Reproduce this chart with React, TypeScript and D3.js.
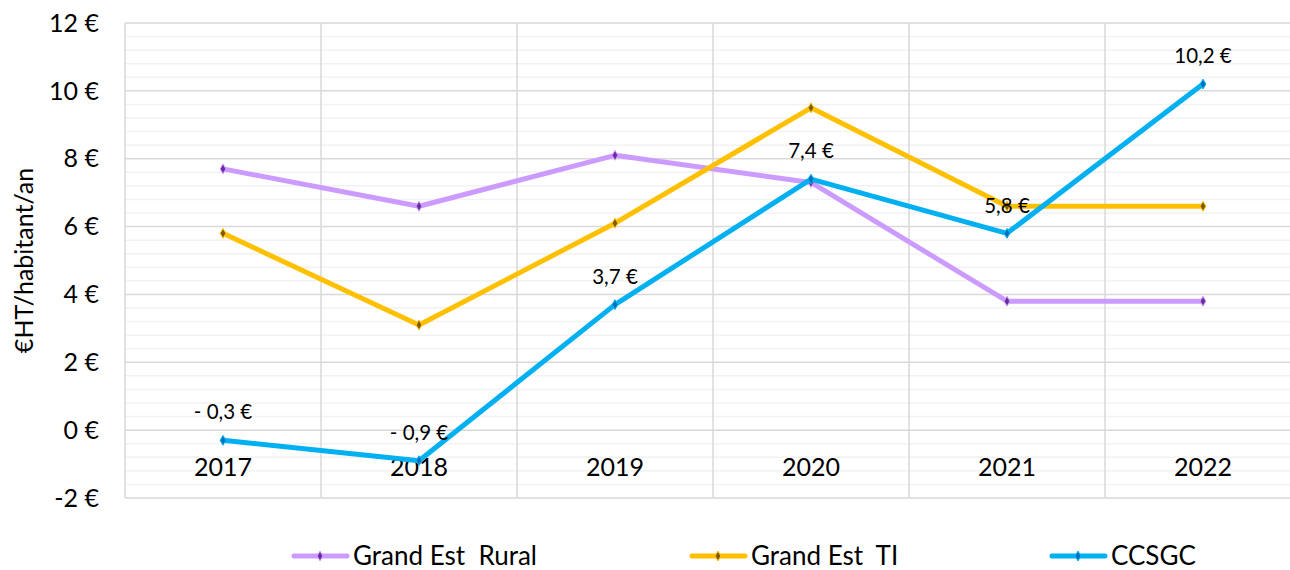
import React from 'react';
import * as d3 from 'd3';

const years = ['2017', '2018', '2019', '2020', '2021', '2022'];
const rural = [7.7, 6.6, 8.1, 7.3, 3.8, 3.8];
const ti = [5.8, 3.1, 6.1, 9.5, 6.6, 6.6];
const ccsgc = [-0.3, -0.9, 3.7, 7.4, 5.8, 10.2];
const yTicks = [-2, 0, 2, 4, 6, 8, 10, 12];

const series = [
  { name: 'Grand Est  Rural', values: rural, color: '#CC9BFF', marker: '#6A2C9E', legendX: 292, labels: false },
  { name: 'Grand Est  TI', values: ti, color: '#FFC000', marker: '#7F5A00', legendX: 690, labels: false },
  { name: 'CCSGC', values: ccsgc, color: '#00B0F0', marker: '#0070C0', legendX: 1050, labels: true },
];

const FONT = 'Lato, "Open Sans", sans-serif';

const fmt = (v: number) => {
  const s = Math.abs(v).toFixed(1).replace('.', ',') + ' €';
  return v < 0 ? '- ' + s : s;
};

export default function App() {
  const W = 1290;
  const H = 570;
  const left = 125;
  const right = 1301;
  const top = 23;
  const bottom = 498;

  const x = d3.scaleBand().domain(years).range([left, right]);
  const y = d3.scaleLinear().domain([-2, 12]).range([bottom, top]);
  const cx = (d: string) => (x(d) as number) + x.bandwidth() / 2;

  // minor gridlines every 0.4 between the major ones
  const minor = d3.range(-2, 12.001, 0.4).filter((v) => Math.abs(v / 2 - Math.round(v / 2)) > 0.01);

  const line = d3
    .line<number>()
    .x((_, i) => cx(years[i]))
    .y((d) => y(d));

  const diamond = d3.symbol().type(d3.symbolDiamond).size(28)() as string;

  return (
    <svg width={W} height={H} style={{ position: 'absolute', left: 0, top: 0, background: '#fff' }} fontFamily={FONT}>
      {minor.map((v, i) => (
        <line key={'m' + i} x1={left} x2={right} y1={y(v)} y2={y(v)} stroke="#F2F2F2" strokeWidth={1.5} />
      ))}
      {yTicks.map((v) => (
        <line key={'g' + v} x1={left} x2={right} y1={y(v)} y2={y(v)} stroke="#D9D9D9" strokeWidth={1.5} />
      ))}
      {[...years.map((d) => x(d) as number), right].map((px, i) => (
        <line key={'v' + i} x1={px} x2={px} y1={top} y2={bottom} stroke="#D9D9D9" strokeWidth={1.5} />
      ))}

      {/* y tick labels */}
      {yTicks.map((v) => (
        <text key={'t' + v} x={99} y={y(v)} dy="0.35em" textAnchor="end" fontSize={25} fill="#000">
          {v} €
        </text>
      ))}

      {/* y axis title */}
      <text transform={`translate(24,${(top + bottom) / 2}) rotate(-90)`} dy="0.35em" textAnchor="middle" fontSize={25} fill="#000">
        €HT/habitant/an
      </text>

      {/* x labels */}
      {years.map((d) => (
        <text key={'x' + d} x={cx(d)} y={y(0) + 37} dy="0.35em" textAnchor="middle" fontSize={25} fill="#000">
          {d}
        </text>
      ))}

      {series.map((s) => (
        <g key={s.name}>
          <path d={line(s.values) as string} fill="none" stroke={s.color} strokeWidth={5} strokeLinejoin="round" strokeLinecap="round" />
          {s.values.map((v, i) => (
            <path key={i} d={diamond} transform={`translate(${cx(years[i])},${y(v)})`} fill={s.marker} stroke={s.color} strokeWidth={1} />
          ))}
        </g>
      ))}

      {/* data labels */}
      {series
        .filter((s) => s.labels)
        .map((s) =>
          s.values.map((v, i) => (
            <text key={s.name + i} x={cx(years[i])} y={y(v) - 28} dy="0.35em" textAnchor="middle" fontSize={20.5} fill="#000">
              {fmt(v)}
            </text>
          ))
        )}

      {/* legend */}
      {series.map((s) => (
        <g key={'l' + s.name} transform={`translate(${s.legendX},556)`}>
          <line x1={2} x2={55} y1={0} y2={0} stroke={s.color} strokeWidth={5} strokeLinecap="round" />
          <path d={diamond} transform="translate(28,0)" fill={s.marker} stroke={s.color} strokeWidth={1} />
          <text x={61} y={0} dy="0.35em" fontSize={26} fill="#000" style={{ whiteSpace: 'pre' }}>
            {s.name}
          </text>
        </g>
      ))}
    </svg>
  );
}
